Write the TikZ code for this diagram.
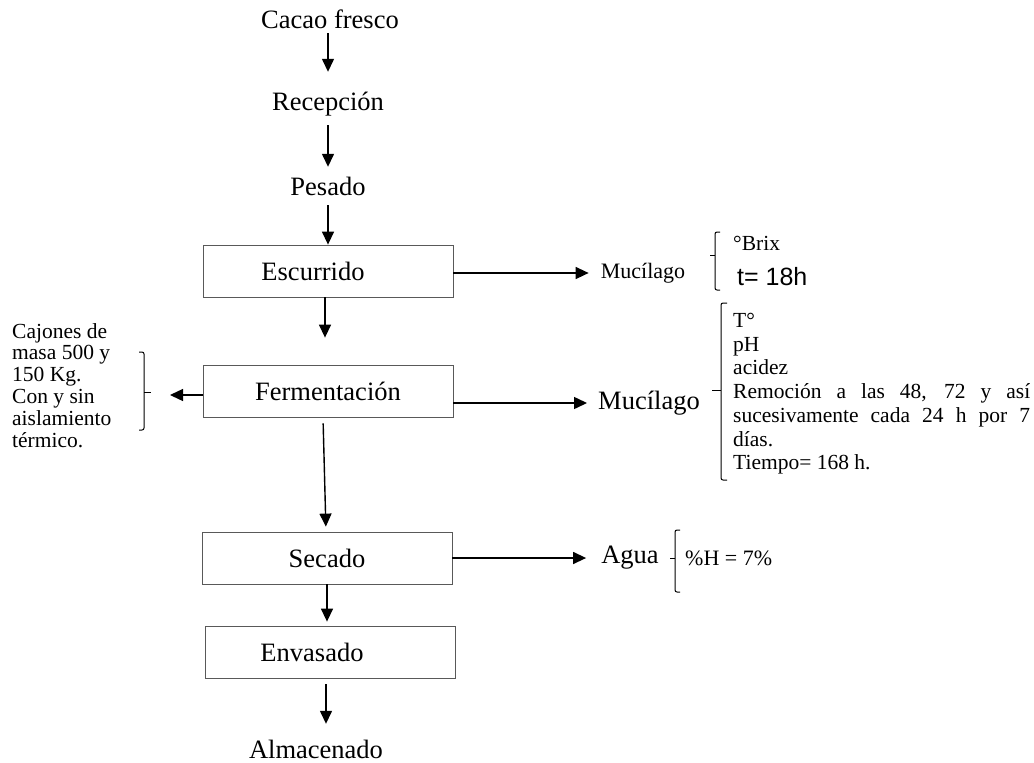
\documentclass[tikz,border=0pt]{standalone}
\usepackage{fontspec}
\setmainfont{Liberation Serif}
\newfontfamily\arialf{Liberation Sans}
\usetikzlibrary{arrows.meta}
\newcommand\bigf{\fontsize{26.5}{30}\selectfont}
\newcommand\smallf{\fontsize{21.5}{23.7}\selectfont}
\tikzset{
 etapa/.style={draw=black!65,line width=0.8pt,minimum width=250pt,minimum height=52pt,inner sep=0pt,font=\bigf},
 paso/.style={inner sep=2pt,text height=18pt,text depth=6pt,font=\bigf},
 flecha/.style={line width=1.4pt,-{Triangle[length=13pt,width=12pt]}},
 llave/.style={line width=1pt,rounded corners=2pt}
}
\begin{document}
\begin{tikzpicture}[x=1pt,y=-1pt]
 \useasboundingbox (0,0) rectangle (1034,763);
 \node[paso] (cacao) at (330,22) {Cacao fresco};
 \node[paso] (recep) at (328,104) {Recepción};
 \node[paso] (pesado) at (328,189) {Pesado};
 \node[etapa] (escu) at (328,271) {\hspace*{-30pt}Escurrido};
 \node[etapa] (ferm) at (328,391) {Fermentación};
 \node[etapa] (sec) at (327,558) {Secado};
 \node[etapa] (env) at (330,652) {\hspace*{-36pt}Envasado};
 \node[paso] (alm) at (316,752) {Almacenado};
 \draw[flecha,shorten <=-3pt,shorten >=18pt] ([xshift=-2pt]cacao.south) -- (recep);
 \draw[flecha,shorten <=7pt,shorten >=8pt] (recep) -- (pesado);
 \draw[flecha,shorten <=2pt] (pesado) -- (escu);
 \draw[flecha,shorten >=27pt] ([xshift=-3pt]escu.south) -- ([xshift=-3pt]ferm.north);
 \draw[flecha,shorten <=6pt,shorten >=5pt] ([xshift=-5pt]ferm.south) -- ([xshift=-1pt]sec.north);
 \draw[flecha,shorten >=4pt] (sec.south) -- (sec.south |- env.north);
 \draw[flecha,shorten <=6pt,shorten >=14pt] ([xshift=-4pt]env.south) -- ([xshift=-4pt]env.south |- alm.north);
 % salidas
 \node[font=\fontsize{22}{24}\selectfont,inner sep=0pt] (muc1) at (643,273) {Mucílago};
 \node[font=\bigf,inner sep=0pt] (muc2) at (649,403) {Mucílago};
 \node[font=\bigf,inner sep=0pt] (agua) at (630,558) {Agua};
 \coordinate (izq) at (170,395);
 \draw[flecha,shorten >=12pt] (escu.east |- muc1.west) -- (muc1.west);
 \draw[flecha,shorten >=11pt] (ferm.east |- muc2.west) -- (muc2.west);
 \draw[flecha,shorten >=15pt] (sec.east |- agua.west) -- (agua.west);
 \draw[flecha] (ferm.west |- izq) -- (izq);
 % llaves
 \draw[llave] (720,232) -| (715,290) -- (720,290);
 \draw[llave] (715,255) -- (710,255);
 \draw[llave] (727,303) -| (721,480) -- (727,480);
 \draw[llave] (721,390) -- (712,390);
 \draw[llave] (680,530) -| (675,592) -- (680,592);
 \draw[llave] (675,558) -- (670,558);
 \draw[llave] (139,352) -| (144,430) -- (139,430);
 \draw[llave] (144,392) -- (151,392);
 % notas
 \node[font=\smallf,anchor=west,inner sep=0pt] (brix) at (733,243) {°Brix};
 \node[font=\arialf\fontsize{25}{28}\selectfont,anchor=west,inner sep=0pt] (t18) at (737,277) {t= 18h};
 \node[font=\smallf,anchor=north west,inner sep=0pt,align=left] (notas) at (733,313)
  {T°\\pH\\acidez\\\makebox[297pt][s]{Remoción a las 48, 72 y así}\\\makebox[297pt][s]{sucesivamente cada 24 h por 7}\\días.\\Tiempo= 168 h.};
 \node[font=\fontsize{21.5}{21.8}\selectfont,anchor=north west,inner sep=0pt,align=left] (cajones) at (12,323)
  {Cajones de\\masa 500 y\\150 Kg.\\Con y sin\\aislamiento\\térmico.};
 \node[font=\fontsize{22}{24}\selectfont,anchor=west,inner sep=0pt] (hum) at (685,558) {\%H = 7\%};
\end{tikzpicture}
\end{document}
